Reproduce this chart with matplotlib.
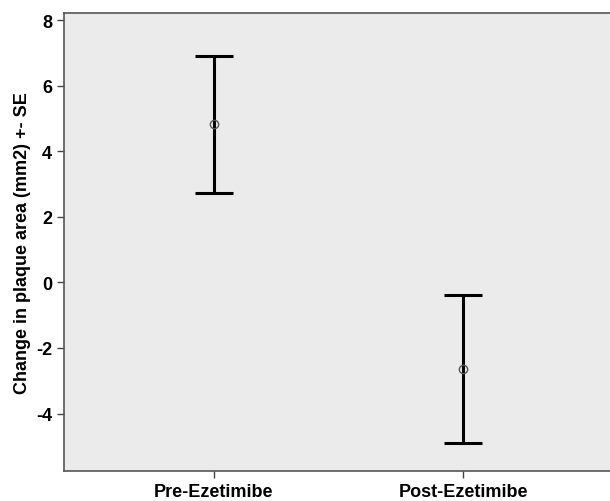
import matplotlib.pyplot as plt
import numpy as np

groups = ['Pre-Ezetimibe', 'Post-Ezetimibe']
means = [4.82, -2.63]
lower = [2.73, -4.90]
upper = [6.92, -0.38]

plt.rcParams['font.family'] = ['Liberation Sans', 'DejaVu Sans']
plt.rcParams['font.weight'] = 'bold'
plt.rcParams['axes.unicode_minus'] = False

fig = plt.figure(figsize=(6.1, 5.02), dpi=100)
ax = fig.add_axes([0.105, 0.06, 0.9, 0.913])
ax.set_facecolor('#ebebeb')

# error bars: mean with asymmetric SE range
x = np.arange(len(groups))
yerr = [np.array(means) - np.array(lower), np.array(upper) - np.array(means)]
ax.errorbar(x, means, yerr=yerr, fmt='none', ecolor='black', elinewidth=2.2,
            capsize=13.5, capthick=2.2)
ax.plot(x, means, 'o', mfc='none', mec='#555555', ms=6, mew=1)

ax.set_xlim(-0.6, 1.6)
ax.set_ylim(-5.75, 8.23)
ax.set_yticks([-4, -2, 0, 2, 4, 6, 8])
ax.set_xticks(x)
ax.set_xticklabels(groups)
ax.tick_params(labelsize=13, length=5, width=1, color='#444444')
ax.set_ylabel('Change in plaque area (mm2) +- SE', fontsize=13, fontweight='bold')

for s in ax.spines.values():
    s.set_color('#555555')
    s.set_linewidth(1.2)

plt.savefig('out.png', dpi=100)
